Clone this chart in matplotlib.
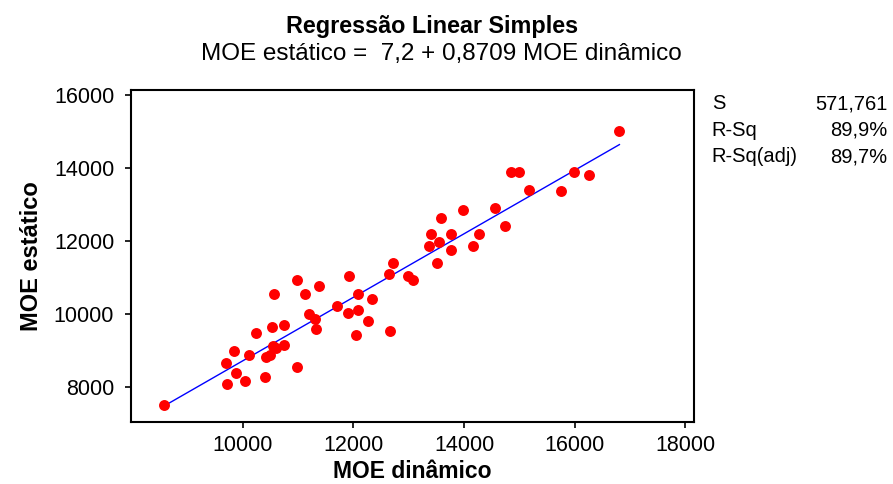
import numpy as np
import matplotlib
matplotlib.use("Agg")
import matplotlib.pyplot as plt

plt.rcParams['font.family'] = ['Liberation Sans', 'DejaVu Sans']

# dados
moe_dinamico = [8571, 9724, 9700, 9874, 10041, 9838, 10120, 10234, 10409, 10420,
                10492, 10553, 10600, 10739, 10523, 10739, 10559, 10991, 10991, 11135,
                11387, 11202, 11309, 11321, 11712, 11928, 11898, 12082, 12082, 12046,
                12262, 12329, 12658, 12652, 12724, 12980, 13081, 13364, 13514, 13405,
                13550, 13586, 13771, 13766, 13982, 14162, 14270, 14564, 14739, 14847,
                14991, 15177, 15759, 15978, 16266, 16807]
moe_estatico = [7495, 8091, 8655, 8378, 8157, 8994, 8876, 9492, 8268, 8820,
                8876, 9124, 9057, 9141, 9640, 9712, 10541, 8544, 10920, 10541,
                10762, 9998, 9878, 9594, 10218, 11039, 10036, 10541, 10108, 9428,
                9823, 10422, 9547, 11086, 11410, 11047, 10920, 11867, 11410, 12190,
                11978, 12641, 12190, 11748, 12862, 11867, 12190, 12917, 12412, 13903,
                13903, 13406, 13359, 13903, 13801, 15017]

intercepto = 7.2
inclinacao = 0.8709
stats_labels = ["S", "R-Sq", "R-Sq(adj)"]
stats_values = ["571,761", "89,9%", "89,7%"]

fig = plt.figure(figsize=(8.93, 4.84), dpi=100)
ax = fig.add_axes([0.1465, 0.128, 0.631, 0.686])

ax.scatter(moe_dinamico, moe_estatico, s=62, color='red', zorder=3, linewidths=0)
xl = np.array([min(moe_dinamico), max(moe_dinamico)])
ax.plot(xl, intercepto + inclinacao * xl, color='blue', lw=1, zorder=2)

ax.set_xlim(7980, 18160)
ax.set_ylim(7040, 16140)
ax.set_xticks([10000, 12000, 14000, 16000, 18000])
ax.set_yticks([8000, 10000, 12000, 14000, 16000])
ax.tick_params(direction='out', length=4, width=1.2, labelsize=15.5)
ax.tick_params(axis='y', pad=8)
ax.tick_params(axis='x', pad=5)
for s in ax.spines.values():
    s.set_linewidth(1.5)

ax.set_xlabel("MOE dinâmico", fontsize=16.5, fontweight='bold', labelpad=3.5)
ax.set_ylabel("MOE estático", fontsize=17, fontweight='bold', labelpad=8)

fig.text(0.484, 0.946, "Regressão Linear Simples", ha='center', va='center',
         fontsize=16.8, fontweight='bold')
fig.text(0.494, 0.889, "MOE estático =  7,2 + 0,8709 MOE dinâmico", ha='center',
         va='center', fontsize=17.5)

for i, (lab, val) in enumerate(zip(stats_labels, stats_values)):
    y = 0.786 - i * 0.055
    fig.text(0.797, y, lab, ha='left', va='center', fontsize=14.5)
    fig.text(0.994, y, val, ha='right', va='center', fontsize=14.5)

fig.savefig("out.png", dpi=100)
